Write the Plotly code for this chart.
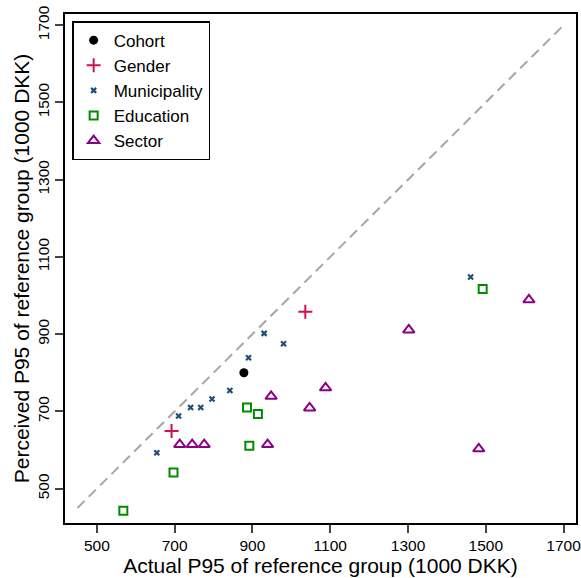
import plotly.graph_objects as go

# Values (1000 DKK)
cohort_x = [878]
cohort_y = [800]

gender_x = [692, 1036]
gender_y = [649, 958]

municipality_x = [654, 710, 741, 767, 796, 842, 890, 930, 980, 1461]
municipality_y = [593, 688, 710, 710, 732, 754, 839, 902, 875, 1048]

education_x = [568, 697, 886, 914, 892, 1492]
education_y = [443, 542, 710, 693, 611, 1017]

sector_x = [713, 745, 776, 939, 948, 1047, 1088, 1302, 1482, 1611]
sector_y = [614, 614, 614, 614, 739, 709, 761, 911, 603, 989]

# 45 degree reference line
diag = [450, 1700]

tick_vals = [500, 700, 900, 1100, 1300, 1500, 1700]

fig = go.Figure()

# dashed identity line
fig.add_trace(go.Scatter(x=diag, y=diag, mode="lines", showlegend=False, hoverinfo="skip",
                         line=dict(color="#A6A6A6", width=2, dash="10px,6px")))

fig.add_trace(go.Scatter(x=cohort_x, y=cohort_y, mode="markers", name="Cohort",
                         marker=dict(symbol="circle", size=9, color="black")))
fig.add_trace(go.Scatter(x=gender_x, y=gender_y, mode="markers", name="Gender",
                         marker=dict(symbol="cross-thin", size=10, color="#D0104C",
                                     line=dict(color="#D0104C", width=2))))
fig.add_trace(go.Scatter(x=municipality_x, y=municipality_y, mode="markers", name="Municipality",
                         marker=dict(symbol="x-thin", size=5, color="#1F4E79",
                                     line=dict(color="#1F4E79", width=2.2))))
fig.add_trace(go.Scatter(x=education_x, y=education_y, mode="markers", name="Education",
                         marker=dict(symbol="square-open", size=8, color="#008B00",
                                     line=dict(color="#008B00", width=2))))
fig.add_trace(go.Scatter(x=sector_x, y=sector_y, mode="markers", name="Sector",
                         marker=dict(symbol="triangle-up-open", size=10, color="#8B008B",
                                     line=dict(color="#8B008B", width=2))))

fig.update_layout(
    width=581, height=578,
    margin=dict(l=65, r=5, t=14, b=55),
    plot_bgcolor="white", paper_bgcolor="white",
    font=dict(family="Liberation Sans, Arial", size=15.5, color="black"),
    legend=dict(x=0.014, y=0.986, xanchor="left", yanchor="top",
                bordercolor="black", borderwidth=1.5, bgcolor="white",
                font=dict(size=17), tracegroupgap=0, itemwidth=30),
)

fig.update_xaxes(range=[418, 1732], tickvals=tick_vals, ticks="outside", ticklen=8,
                 tickwidth=1.5, showgrid=False, zeroline=False, showline=True,
                 linecolor="black", linewidth=1.5, mirror=True, automargin=False,
                 ticklabeloverflow="allow",
                 title=dict(text="Actual P95 of reference group (1000 DKK)", font=dict(size=21), standoff=0))
fig.update_yaxes(range=[411, 1729], tickvals=tick_vals, ticks="outside", ticklen=8,
                 tickwidth=1.5, tickangle=-90, showgrid=False, zeroline=False, showline=True,
                 linecolor="black", linewidth=1.5, mirror=True, automargin=False,
                 ticklabeloverflow="allow",
                 title=dict(text="Perceived P95 of reference group (1000 DKK)", font=dict(size=21), standoff=0))

# drop the default page margin so the figure fills the window exactly, no modebar
fig.write_html("out.html", config={"displayModeBar": False},
               post_script="document.body.style.margin='0';")
